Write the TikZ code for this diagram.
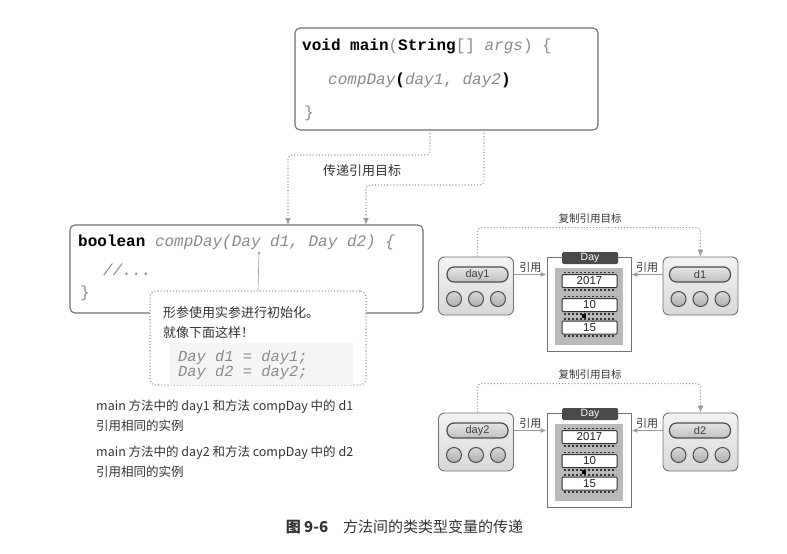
\documentclass[tikz,border=0pt]{standalone}
\usepackage{fontspec}
\setmainfont{Liberation Sans}
\setmonofont{Liberation Mono}
\newfontfamily\cjk{Noto Sans CJK SC}
\usepackage{tikz}
\usetikzlibrary{arrows.meta, positioning, shapes}

\definecolor{boxline}{HTML}{707070}
\definecolor{dotgray}{HTML}{9C9C9C}
\definecolor{textdark}{HTML}{333333}
\definecolor{codegray}{HTML}{8A8A8A}
\definecolor{tabdark}{HTML}{4A4A4A}

\newcommand{\kw}[1]{{\color{black}\bfseries #1}}
\newcommand{\gi}[1]{{\color{codegray}\itshape #1}}
\newcommand{\gr}[1]{{\color{codegray}#1}}

\tikzset{
  codebox/.style={draw=boxline, line width=1.1pt, rounded corners=5pt, fill=white, inner sep=0pt},
  code/.style={font=\ttfamily\fontsize{16}{18}\selectfont, anchor=base west, inner sep=0pt},
  smallcode/.style={font=\ttfamily\fontsize{15.4}{15}\selectfont, anchor=base west, inner sep=0pt},
  note/.style={font=\cjk\fontsize{13}{20}\selectfont, text=textdark, inner sep=0pt},
  lbl/.style={font=\cjk\fontsize{11}{13}\selectfont, text=textdark, inner sep=1pt},
  pass/.style={draw=dotgray, dotted, line width=1.1pt, rounded corners=4pt, -{Latex[length=7pt,width=6pt]}},
  ref/.style={draw=dotgray, line width=1pt, -{Latex[length=6pt,width=5pt]}},
  callout/.style={draw=dotgray, dotted, line width=1.1pt, rounded corners=6pt, fill=white},
  varbox/.style={draw=boxline, line width=0.9pt, rounded corners=6pt, top color=gray!10, bottom color=gray!30,
    minimum width=75pt, minimum height=58pt, inner sep=0pt},
  pill/.style={draw=black!70, line width=1.2pt, rounded corners=7pt, top color=gray!20, bottom color=gray!50,
    minimum width=61pt, minimum height=15pt, inner sep=0pt, font=\fontsize{11}{11}\selectfont, text=black!75},
  ball/.style={circle, draw=black!70, line width=1pt, top color=gray!30, bottom color=gray!65,
    minimum size=15pt, inner sep=0pt},
  objbox/.style={draw=boxline, line width=0.9pt, fill=white, minimum width=84pt, minimum height=94pt, inner sep=0pt},
  tabbox/.style={fill=tabdark, rounded corners=1.5pt, minimum width=56pt, minimum height=12pt, inner sep=0pt,
    text=white, font=\fontsize{10.5}{11}\selectfont},
  fieldbox/.style={draw=black!80, line width=1pt, fill=white, rounded corners=1pt, minimum width=55pt,
    minimum height=13pt, inner sep=0pt, font=\fontsize{11.5}{12}\selectfont, text=black!85},
  ticks/.style={draw=black!80, line width=1.8pt, dash pattern=on 2pt off 2pt}
}

\begin{document}
\begin{tikzpicture}[x=1pt, y=-1pt]
\useasboundingbox (0,0) rectangle (787,554);

% caller
\node[codebox, minimum width=303pt, minimum height=102pt] (mainbox) at (446.5,79) {};
\node[code] (m1) at (302,50) {\kw{void main}\gr{(}\kw{String}\gr{[] }\gi{args}\gr{) \{}};
\node[code] (m2) at (328,84) {\gi{compDay}\kw{(}\gi{day1}\gr{, }\gi{day2}\kw{)}};
\node[code] (m3) at (304,117) {\gr{\}}};

% callee
\node[codebox, minimum width=353pt, minimum height=88pt] (cbox) at (246.5,269) {};
\node[code] (c1) at (78,246) {\kw{boolean} \gi{compDay(Day d1, Day d2) \{}};
\node[code] (c2) at (103,275) {\gi{//...}};
\node[code] (c3) at (80,297) {\gr{\}}};

\coordinate (a1) at (430,130);
\coordinate (a2) at (484,130);
\coordinate (b1) at (288,225);
\coordinate (b2) at (366,225);
\draw[pass] (a1) -- ++(0,25) -| (b1);
\draw[pass] (a2) -- ++(0,55) -| (b2);
\node[note] (passlbl) at (362,171) {传递引用目标};

% callout
\node[callout, minimum width=216pt, minimum height=94pt] (callout) at (258,338) {};
\coordinate (pdot) at (259,253);
\draw[draw=dotgray, line width=0.6pt] (callout.north) -- (pdot);
\fill[dotgray] (pdot) circle (1.4);
\node[note, anchor=base west] (n1) at (163,317) {形参使用实参进行初始化。};
\node[note, anchor=base west] (n2) at (163,337) {就像下面这样！};
\node[fill=gray!8, minimum width=183pt, minimum height=42pt, inner sep=0pt] (codebg) at (261.5,364) {};
\node[smallcode] (k1) at (178,361) {\gi{Day d1 = day1;}};
\node[smallcode] (k2) at (178,376) {\gi{Day d2 = day2;}};

% explanation
\node[note, anchor=base west, align=left, font=\cjk\fontsize{12.5}{20}\selectfont] (s1) at (96,430)
  {main 方法中的 day1 和方法 compDay 中的 d1\\引用相同的实例};
\node[note, anchor=base west, align=left, font=\cjk\fontsize{12.5}{20}\selectfont] (s2) at (96,476)
  {main 方法中的 day2 和方法 compDay 中的 d2\\引用相同的实例};

\node[note, font=\cjk\fontsize{15}{16}\selectfont] (cap) at (404.5,527)
  {\bfseries 图 9-6\quad\mdseries 方法间的类类型变量的传递};

% variables and instance
\foreach \r/\va/\vb/\dy in {1/day1/d1/0, 2/day2/d2/156}{
\begin{scope}[shift={(0,\dy)}]
  \node[varbox] (v\r) at (476,286) {};
  \node[pill] (pv\r) at (477.5,274.5) {\va};
  \node[varbox] (w\r) at (700.5,286) {};
  \node[pill] (pw\r) at (700,274.5) {\vb};
  \foreach \o/\k in {-22/a,0/b,22/c}{
    \node[ball] (lb\r\k) at ([shift={(\o,13)}]v\r.center) {};
    \node[ball] (rb\r\k) at ([shift={(\o,13)}]w\r.center) {};
  }
  \node[objbox] (o\r) at (589,304) {};
  \node[fill=gray!55, minimum width=68pt, minimum height=77pt, inner sep=0pt] (oi\r) at (589,306.5) {};
  \node[tabbox] (ot\r) at (590,258) {Day};
  \node[fieldbox] (fy\r) at (589.5,281) {2017};
  \node[fieldbox] (fm\r) at (589.5,305) {10};
  \node[fieldbox] (fd\r) at (589.5,327.5) {15};
  \foreach \f in {fy,fm,fd}{
    \draw[ticks] ([shift={(2pt,1.6pt)}]\f\r.north west) -- ([shift={(-2pt,1.6pt)}]\f\r.north east);
    \draw[ticks] ([shift={(2pt,-1.6pt)}]\f\r.south west) -- ([shift={(-2pt,-1.6pt)}]\f\r.south east);
  }
  \node[fill=black, minimum size=3.5pt, inner sep=0pt] (sq\r) at (584,316) {};
  \draw[ref] (v\r.east |- pv\r) -- (o\r.west |- pv\r) node[midway, above=1pt, lbl] (rl\r) {引用};
  \draw[ref] (w\r.west |- pw\r) -- (o\r.east |- pw\r) node[midway, above=1pt, lbl] (rr\r) {引用};
  \draw[pass] (v\r.north -| pv\r) -- ++(0,-29) -| (w\r.north);
  \node[lbl, font=\cjk\fontsize{10.5}{12}\selectfont] (cl\r) at (590,219) {复制引用目标};
\end{scope}
}
\end{tikzpicture}
\end{document}
